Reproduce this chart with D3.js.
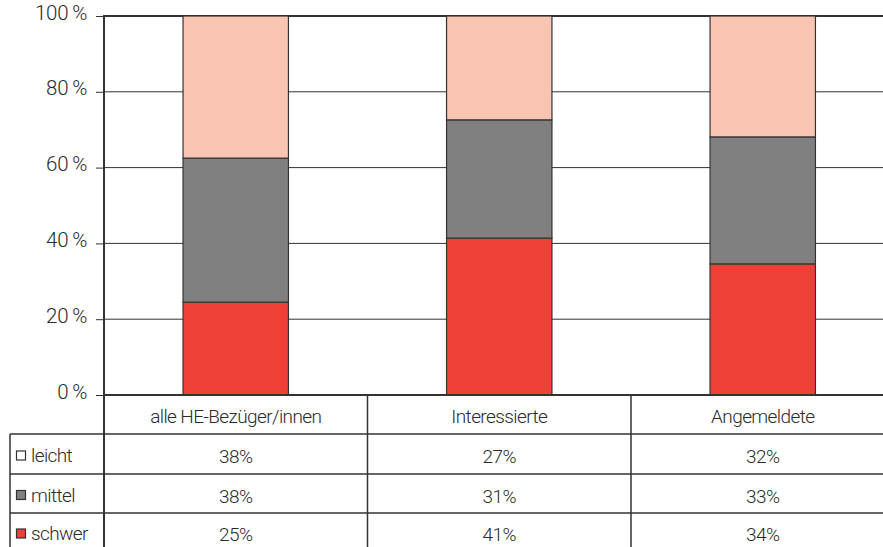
<!DOCTYPE html>
<html><head><meta charset="utf-8">
<script src="https://cdn.jsdelivr.net/npm/d3@7"></script>
<style>
body{margin:0;background:#fff;}
text{font-family:"Roboto",sans-serif;font-weight:300;fill:#2b2b2b;letter-spacing:-0.6px;}
</style></head><body>
<svg id="c" width="883" height="547"></svg>
<script>
const categories = ["alle HE-Bezüger/innen", "Interessierte", "Angemeldete"];
const seriesNames = ["leicht", "mittel", "schwer"];
const schwerValues = [24.5, 41.4, 34.6];
const mittelValues = [38.0, 31.2, 33.5];
const leichtValues = [37.5, 27.4, 31.9];
const tableLeicht = ["38%", "27%", "32%"];
const tableMittel = ["38%", "31%", "33%"];
const tableSchwer = ["25%", "41%", "34%"];
const yTicks = [0, 20, 40, 60, 80, 100];

(function(){
const colors = {leicht:"#F9C4B1", mittel:"#808080", schwer:"#EE4036"};
const svg = d3.select("#c");
const pLeft = 104, pTop = 16, pBottom = 395, pRight = 894.5;
const x = d3.scaleBand().domain(categories).range([pLeft, pRight]).paddingInner(0.6).paddingOuter(0.3);
const xBand = d3.scaleBand().domain(categories).range([pLeft, pRight]);
const y = d3.scaleLinear().domain([0, 100]).range([pBottom, pTop]);

svg.append("g").selectAll("line").data(yTicks.filter(d=>d>0)).join("line")
  .attr("x1", pLeft).attr("x2", 883).attr("y1", d=>y(d)).attr("y2", d=>y(d))
  .attr("stroke", "#333").attr("stroke-width", d=>d===100?2:1);

const rows = categories.map((c,i)=>({cat:c, schwer:schwerValues[i], mittel:mittelValues[i], leicht:leichtValues[i]}));
const stack = d3.stack().keys(["schwer","mittel","leicht"])(rows);
svg.append("g").selectAll("g").data(stack).join("g")
  .attr("fill", d=>colors[d.key])
  .selectAll("rect").data(d=>d).join("rect")
  .attr("x", d=>x(d.data.cat)).attr("width", x.bandwidth())
  .attr("y", d=>y(d[1])).attr("height", d=>y(d[0])-y(d[1]))
  .attr("stroke", "#333").attr("stroke-width", 1.2);

const yAxis = d3.axisLeft(y).tickValues(yTicks).tickFormat(d=>d+"\u2009%").tickSize(8).tickPadding(9);
const ga = svg.append("g").attr("transform", `translate(${pLeft},0)`).call(yAxis);
ga.select(".domain").remove();
ga.selectAll(".tick line").attr("stroke", "#333").attr("stroke-width", 1);
ga.selectAll(".tick text").style("font-size", "20.5px").style("letter-spacing","-0.3px").attr("fill", "#2b2b2b").attr("dy", "0.15em");

svg.append("line").attr("x1", pLeft).attr("x2", pLeft).attr("y1", pTop-1).attr("y2", 547).attr("stroke", "#333").attr("stroke-width", 2);
svg.append("line").attr("x1", pLeft).attr("x2", 883).attr("y1", pBottom).attr("y2", pBottom).attr("stroke", "#333").attr("stroke-width", 2);

const rowY = [395, 434, 474, 513, 553];
const tl = svg.append("g");
[434, 474, 513].forEach(yy=>{
  tl.append("line").attr("x1", 10).attr("x2", 883).attr("y1", yy).attr("y2", yy).attr("stroke", "#333").attr("stroke-width", 1.5);
});
tl.append("line").attr("x1", 10).attr("x2", 10).attr("y1", 434).attr("y2", 547).attr("stroke", "#333").attr("stroke-width", 1.5);
categories.slice(1).forEach(c=>{
  tl.append("line").attr("x1", xBand(c)).attr("x2", xBand(c)).attr("y1", pBottom).attr("y2", 547).attr("stroke", "#333").attr("stroke-width", 1.5);
});
tl.selectAll("text.h").data(categories).join("text").attr("class","h")
  .attr("x", d=>xBand(d)+xBand.bandwidth()/2).attr("y", 423)
  .attr("text-anchor","middle").style("font-size","19px").text(d=>d);
const tableRows = [
  {name:"leicht", vals:tableLeicht, sw:"#fff"},
  {name:"mittel", vals:tableMittel, sw:colors.mittel},
  {name:"schwer", vals:tableSchwer, sw:colors.schwer}
];
tableRows.forEach((r,i)=>{
  const cy = (rowY[i+1]+Math.min(rowY[i+2],547))/2 + (i===2?2:0);
  tl.append("rect").attr("x", 16.5).attr("y", cy-3).attr("width", 9).attr("height", 9)
    .attr("fill", r.sw).attr("stroke","#333").attr("stroke-width",1.2);
  tl.append("text").attr("x", 31).attr("y", cy+8).style("font-size","19px").text(r.name);
  categories.forEach((c,j)=>{
    tl.append("text").attr("x", xBand(c)+xBand.bandwidth()/2).attr("y", cy+9)
      .attr("text-anchor","middle").style("font-size","19px").text(r.vals[j]);
  });
});
})();
</script></body></html>
